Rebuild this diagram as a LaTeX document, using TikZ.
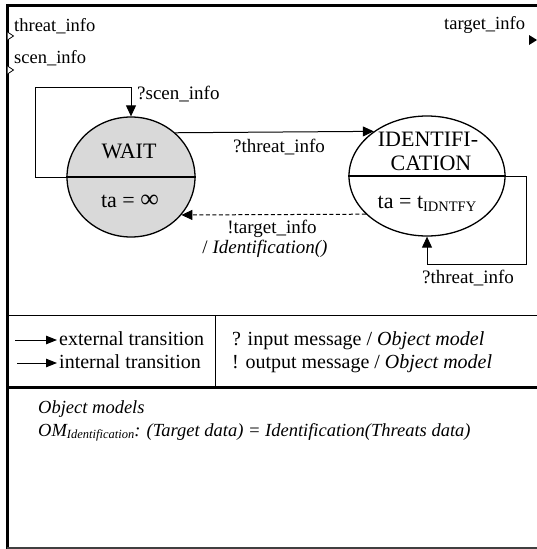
\documentclass[tikz,border=0pt]{standalone}
\usepackage{fontspec}
\setmainfont{Liberation Serif}
\usetikzlibrary{arrows.meta,calc,shapes.geometric}
\begin{document}
\begin{tikzpicture}[x=1pt,y=-1pt,
  state/.style={ellipse,draw,line width=1.3pt,inner sep=0pt,minimum height=120pt},
  lbl/.style={font=\fontsize{19}{21}\selectfont,inner sep=0pt,anchor=base},
  port/.style={font=\fontsize{18.5}{20}\selectfont,inner sep=0pt,anchor=base west},
  stxt/.style={font=\fontsize{22}{24}\selectfont,inner sep=0pt,anchor=base},
  leg/.style={font=\fontsize{20}{22}\selectfont,inner sep=0pt,anchor=base west},
  om/.style={font=\fontsize{18.5}{20}\selectfont\itshape,inner sep=0pt,anchor=base west},
  conn/.style={line width=1pt},
  arr/.style={conn,-{Triangle[length=11pt,width=10pt]}},
  legarr/.style={line width=1pt,-{Triangle[length=11pt,width=8.5pt]}},
]
\useasboundingbox (0,0) rectangle (537,549);
% frame
\draw[line width=3pt] (7,549) -- (7,5) -- (537,5);
\draw[line width=1.2pt,black!75] (7,548) -- (537,548);
\draw[line width=1pt] (7,315) -- (537,315);
\draw[line width=3pt] (7,387) -- (537,387);
\draw[line width=1pt] (215,315) -- (215,387);
% ports
\draw[line width=0.8pt,fill=white] (7.5,32) -- (13.5,36) -- (7.5,40);
\draw[line width=0.8pt,fill=white] (7.5,66) -- (13.5,70) -- (7.5,74);
\fill (529,35) -- (537,40) -- (529,45) -- cycle;
\node[port] (pthreat) at (14,31) {threat\_info};
\node[port] (pscen) at (14,63) {scen\_info};
\node[port] (ptarget) at (444,29) {target\_info};
% states
\node[state,fill=black!15,minimum width=128pt] (wait) at (131,177) {};
\node[state,fill=white,minimum width=156pt] (ident) at (427,176) {};
\draw[line width=1.3pt] (wait.west) -- (wait.east);
\draw[line width=1.3pt] (ident.west) -- (ident.east);
\node[stxt] (waitname) at (129,158) {WAIT};
\node[stxt] (waitta) at (130,207) {ta = \fontsize{26}{26}\selectfont ∞};
\node[stxt] (idname1) at (428,146) {IDENTIFI-};
\node[stxt] (idname2) at (431,170) {CATION};
\node[stxt] (idta) at (427,208) {ta = t\raisebox{-0.3ex}{\fontsize{14.5}{15}\selectfont IDNTFY}};
% transitions
\draw[arr] (wait.west) -- ++(-31,0) |- ([yshift=29pt]wait.north) -- (wait.north);
\node[lbl,anchor=base west] (lscen) at (137,99) {?scen\_info};
\draw[arr] (wait.45.5) -- (ident.140.3);
\node[lbl] (lthreat) at (279,152) {?threat\_info};
\draw[arr] (ident.east) -- ++(21,0) |- ([yshift=-28pt]ident.south) -- (ident.south);
\node[lbl] (lthreat2) at (468,283) {?threat\_info};
\draw[conn,dash pattern=on 4pt off 2.5pt,-{Triangle[length=11pt,width=10pt]}] (ident.-148) -- (wait.-37.5);
\node[lbl] (ltarget) at (272,233) {!target\_info};
\node[lbl] (lident) at (265,253) {/ \textit{Identification()}};
% legend
\coordinate (e1) at (15,340);
\coordinate (e2) at (57,340);
\coordinate (i1) at (17,363);
\coordinate (i2) at (57,363);
\draw[legarr] (e1) -- (e2);
\draw[legarr] (i1) -- (i2);
\node[leg] (lext) at (59,345) {external transition};
\node[leg] (lint) at (59,368) {internal transition};
\node[leg] (lin) at (232,345) {? input message / \textit{Object model}};
\node[leg] (lout) at (232,368) {! output message / \textit{Object model}};
% object models
\node[om] (omt) at (38,413) {Object models};
\node[om] (omf) at (38,436) {OM\raisebox{-0.35ex}{\fontsize{12.5}{13}\selectfont Identification}: (Target data) = Identification(Threats data)};
\end{tikzpicture}
\end{document}
